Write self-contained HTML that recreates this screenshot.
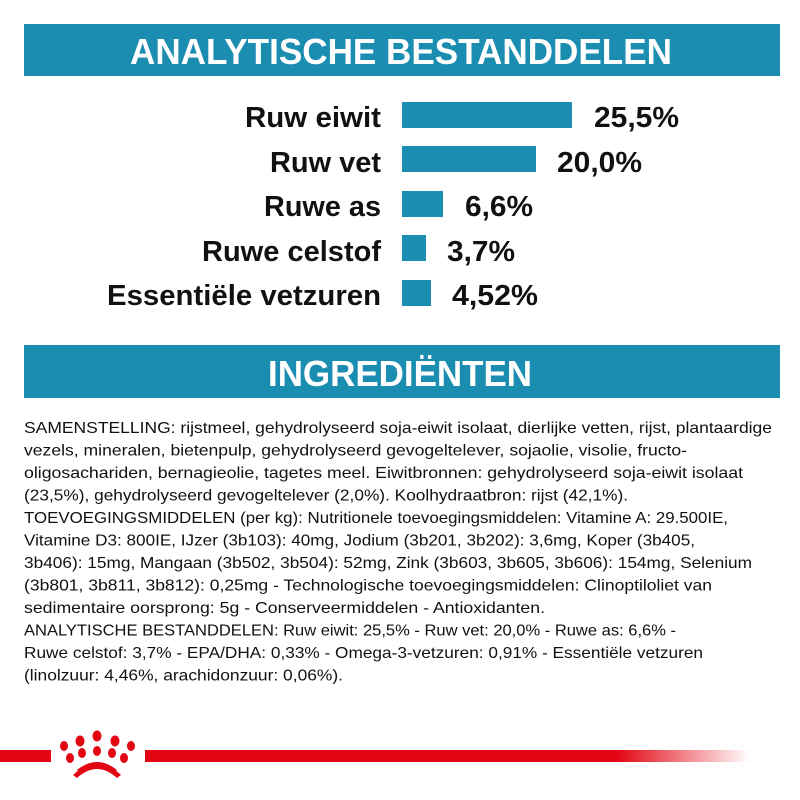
<!DOCTYPE html>
<html><head><meta charset="utf-8"><style>
html,body{margin:0;padding:0;background:#fff;width:800px;height:800px;overflow:hidden}
svg{display:block}
</style></head><body>
<svg width="800" height="800" viewBox="0 0 800 800" xmlns="http://www.w3.org/2000/svg" font-family="Liberation Sans, sans-serif">
<defs><linearGradient id="g" x1="0" x2="1"><stop offset="0" stop-color="#e30613"/><stop offset="0.78" stop-color="#e30613"/><stop offset="1" stop-color="#e30613" stop-opacity="0"/></linearGradient></defs>
<rect x="24" y="24" width="756" height="52" fill="#1b8db0"/>
<text x="130" y="64" font-size="36" font-weight="bold" fill="#fff" textLength="542" lengthAdjust="spacingAndGlyphs">ANALYTISCHE BESTANDDELEN</text>
<g font-size="29" font-weight="bold" fill="#111">
<text x="381" y="127" text-anchor="end" textLength="136" lengthAdjust="spacingAndGlyphs">Ruw eiwit</text>
<text x="381" y="172" text-anchor="end" textLength="111" lengthAdjust="spacingAndGlyphs">Ruw vet</text>
<text x="381" y="216" text-anchor="end" textLength="117" lengthAdjust="spacingAndGlyphs">Ruwe as</text>
<text x="381" y="261" text-anchor="end" textLength="179" lengthAdjust="spacingAndGlyphs">Ruwe celstof</text>
<text x="381" y="305" text-anchor="end" textLength="274" lengthAdjust="spacingAndGlyphs">Essentiële vetzuren</text>
<text x="594" y="127" textLength="85" lengthAdjust="spacingAndGlyphs">25,5%</text>
<text x="557" y="172" textLength="85" lengthAdjust="spacingAndGlyphs">20,0%</text>
<text x="465" y="216" textLength="68" lengthAdjust="spacingAndGlyphs">6,6%</text>
<text x="447" y="261" textLength="68" lengthAdjust="spacingAndGlyphs">3,7%</text>
<text x="452" y="305" textLength="86" lengthAdjust="spacingAndGlyphs">4,52%</text>
</g>
<g fill="#1b8db0">
<rect x="402" y="102" width="170" height="26"/>
<rect x="402" y="146" width="134" height="26"/>
<rect x="402" y="191" width="41" height="26"/>
<rect x="402" y="235" width="24" height="26"/>
<rect x="402" y="280" width="29" height="26"/>
</g>
<rect x="24" y="345" width="756" height="53" fill="#1b8db0"/>
<text x="268" y="386" font-size="36" font-weight="bold" fill="#fff" textLength="264" lengthAdjust="spacingAndGlyphs">INGREDIËNTEN</text>
<g font-size="16" fill="#111">
<text x="24" y="433" textLength="748" lengthAdjust="spacingAndGlyphs">SAMENSTELLING: rijstmeel, gehydrolyseerd soja-eiwit isolaat, dierlijke vetten, rijst, plantaardige</text>
<text x="24" y="455.5" textLength="663" lengthAdjust="spacingAndGlyphs">vezels, mineralen, bietenpulp, gehydrolyseerd gevogeltelever, sojaolie, visolie, fructo-</text>
<text x="24" y="478" textLength="719" lengthAdjust="spacingAndGlyphs">oligosachariden, bernagieolie, tagetes meel. Eiwitbronnen: gehydrolyseerd soja-eiwit isolaat</text>
<text x="24" y="500.5" textLength="604" lengthAdjust="spacingAndGlyphs">(23,5%), gehydrolyseerd gevogeltelever (2,0%). Koolhydraatbron: rijst (42,1%).</text>
<text x="24" y="523" textLength="704" lengthAdjust="spacingAndGlyphs">TOEVOEGINGSMIDDELEN (per kg): Nutritionele toevoegingsmiddelen: Vitamine A: 29.500IE,</text>
<text x="24" y="545.5" textLength="671" lengthAdjust="spacingAndGlyphs">Vitamine D3: 800IE, IJzer (3b103): 40mg, Jodium (3b201, 3b202): 3,6mg, Koper (3b405,</text>
<text x="24" y="568" textLength="728" lengthAdjust="spacingAndGlyphs">3b406): 15mg, Mangaan (3b502, 3b504): 52mg, Zink (3b603, 3b605, 3b606): 154mg, Selenium</text>
<text x="24" y="590.5" textLength="688" lengthAdjust="spacingAndGlyphs">(3b801, 3b811, 3b812): 0,25mg - Technologische toevoegingsmiddelen: Clinoptiloliet van</text>
<text x="24" y="613" textLength="521" lengthAdjust="spacingAndGlyphs">sedimentaire oorsprong: 5g - Conserveermiddelen - Antioxidanten.</text>
<text x="24" y="635.5" textLength="652" lengthAdjust="spacingAndGlyphs">ANALYTISCHE BESTANDDELEN: Ruw eiwit: 25,5% - Ruw vet: 20,0% - Ruwe as: 6,6% -</text>
<text x="24" y="658" textLength="679" lengthAdjust="spacingAndGlyphs">Ruwe celstof: 3,7% - EPA/DHA: 0,33% - Omega-3-vetzuren: 0,91% - Essentiële vetzuren</text>
<text x="24" y="680.5" textLength="319" lengthAdjust="spacingAndGlyphs">(linolzuur: 4,46%, arachidonzuur: 0,06%).</text>
</g>
<rect x="0" y="750" width="51" height="12" fill="#e30613"/>
<rect x="145" y="750" width="605" height="12" fill="url(#g)"/>
<g fill="#e30613">
<ellipse cx="80" cy="741" rx="4.5" ry="5.5"/><ellipse cx="97" cy="736" rx="4.5" ry="5.5"/><ellipse cx="115" cy="741" rx="4.5" ry="5.5"/>
<ellipse cx="64" cy="746" rx="4" ry="5"/><ellipse cx="131" cy="746" rx="4" ry="5"/>
<ellipse cx="82" cy="753" rx="4" ry="5"/><ellipse cx="97" cy="751" rx="4" ry="5"/><ellipse cx="112" cy="753" rx="4" ry="5"/>
<ellipse cx="70" cy="758" rx="4" ry="5"/><ellipse cx="124" cy="758" rx="4" ry="5"/>
<path d="M73 775 Q97 752 121 775 L117 778 Q97 760 77 778Z"/>
<path d="M77 770 Q97 754 117 770 L114 772 Q97 759 80 772Z"/>
</g>
</svg>
</body></html>
